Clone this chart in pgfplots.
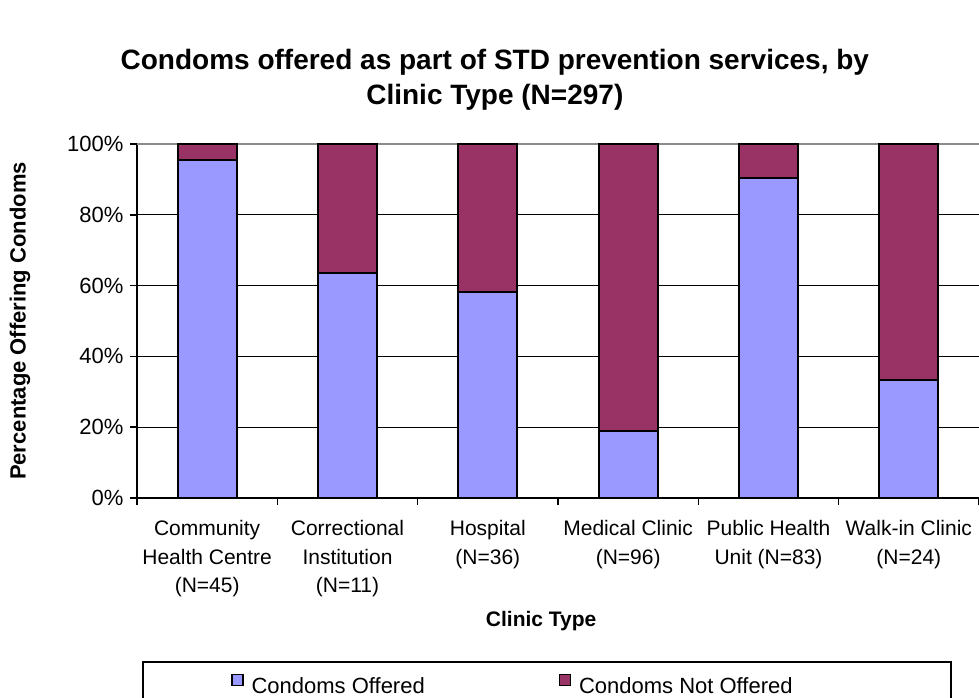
\documentclass[border=0pt]{standalone}
\usepackage{fontspec}
\setmainfont{Liberation Sans}
\usepackage{pgfplots}
\pgfplotsset{compat=1.18}
\definecolor{offered}{HTML}{9999FF}
\definecolor{notoffered}{HTML}{993366}
\definecolor{topline}{HTML}{8C8C8C}

\begin{document}
\begin{tikzpicture}
\path[use as bounding box] (-137pt,-200pt) rectangle (842pt,498pt);
\begin{axis}[
  at={(0pt,0pt)}, anchor=south west,
  scale only axis,
  width=842pt, height=354pt,
  ybar stacked,
  bar width=59pt,
  xmin=0.5, xmax=6.5,
  ymin=0, ymax=100,
  axis x line*=bottom, axis y line*=left,
  axis line style={black, line width=2pt, -},
  xtick={0.5,1.5,...,6.5},
  x tick label as interval,
  xticklabels={{Community\\Health Centre\\(N=45)},
               {Correctional\\Institution\\(N=11)},
               {Hospital\\(N=36)},
               {Medical Clinic\\(N=96)},
               {Public Health\\Unit (N=83)},
               {Walk-in Clinic\\(N=24)}},
  xticklabel style={align=center, font=\fontsize{21}{28.5}\selectfont, yshift=-12pt},
  ytick={0,20,40,60,80},
  extra y ticks={100},
  extra y tick style={major grid style={topline, line width=2.2pt}},
  yticklabel={\pgfmathprintnumber{\tick}\%},
  yticklabel style={font=\fontsize{22}{26}\selectfont, xshift=-3pt},
  /pgf/number format/assume math mode=true,
  tick style={draw=black, line width=1.6pt},
  tick align=outside,
  major tick length=7pt,
  ymajorgrids,
  major grid style={black, line width=1.2pt},
  title={Condoms offered as part of STD prevention services, by\\Clinic Type (N=297)},
  title style={at={(axis description cs:0.425,1.165)}, anchor=center, align=center,
               font=\fontsize{28}{35}\selectfont\bfseries},
  ylabel={Percentage Offering Condoms},
  ylabel style={at={(axis description cs:-0.139,0.5)}, anchor=center,
                font=\fontsize{22}{26}\selectfont\bfseries},
  xlabel={Clinic Type},
  xlabel style={at={(axis description cs:0.48,-0.347)}, anchor=center,
                font=\fontsize{21}{25}\selectfont\bfseries},
  legend columns=2,
  legend image code/.code={\draw[#1, draw=black, line width=1.5pt] (0pt,1pt) rectangle (11pt,12pt);},
  legend style={at={(axis description cs:0.006,-0.46)}, anchor=north west,
                draw=black, line width=2pt, inner xsep=88pt, inner ysep=12pt,
                font=\fontsize{22}{26}\selectfont,
                nodes={inner sep=0pt},
                /tikz/every odd column/.append style={column sep=8pt},
                /tikz/every even column/.append style={column sep=0pt}},
]
\addplot[fill=offered, draw=black, line width=2pt] coordinates
  {(1,95.6) (2,63.6) (3,58.3) (4,18.8) (5,90.4) (6,33.3)};
\addplot[fill=notoffered, draw=black, line width=2pt] coordinates
  {(1,4.4) (2,36.4) (3,41.7) (4,81.2) (5,9.6) (6,66.7)};
\legend{\makebox[307pt][l]{Condoms Offered}, \makebox[284pt][l]{Condoms Not Offered}}
\end{axis}
\end{tikzpicture}
\end{document}
